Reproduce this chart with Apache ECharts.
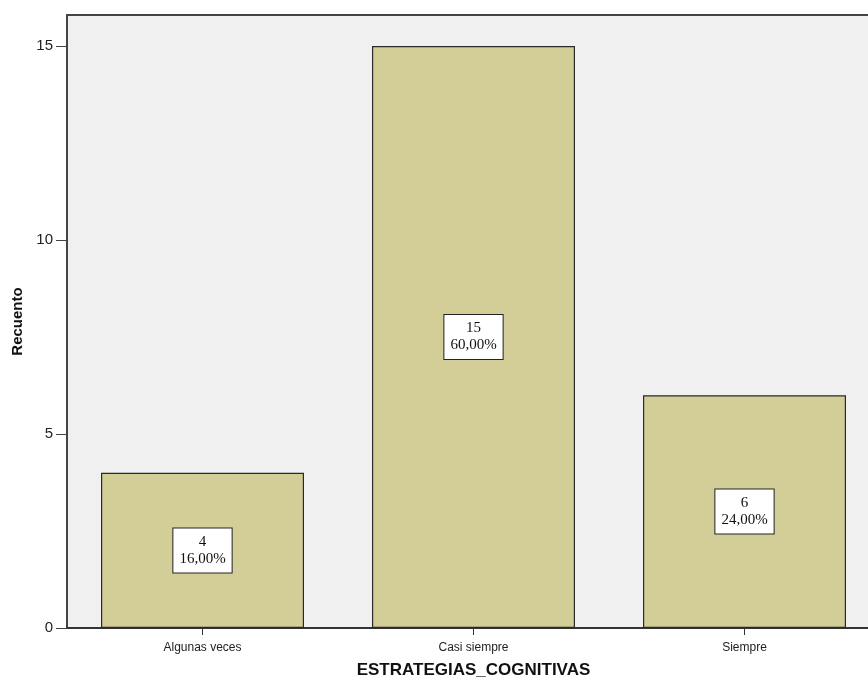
<!DOCTYPE html>
<html>
<head>
<meta charset="utf-8">
<script src="https://cdn.jsdelivr.net/npm/echarts@6/dist/echarts.min.js"></script>
<style>html,body{margin:0;padding:0;background:#fff;}#c{width:868px;height:683px;}</style>
</head>
<body>
<div id="c"></div>
<script>
const categories = ['Algunas veces', 'Casi siempre', 'Siempre'];
const counts = [4, 15, 6];
const percents = ['16,00%', '60,00%', '24,00%'];
const yTicks = [0, 5, 10, 15];

const chart = echarts.init(document.getElementById('c'));
chart.setOption({
  animation: false,
  grid: {left: 67, top: 15, width: 813, height: 613, outerBoundsMode: 'none', containLabel: false, show: true, backgroundColor: '#f0f0f0', borderColor: '#444', borderWidth: 2},
  xAxis: {
    type: 'category', data: categories,
    name: 'ESTRATEGIAS_COGNITIVAS', nameLocation: 'middle', nameGap: 34,
    nameTextStyle: {fontFamily: 'Arial, Liberation Sans', fontWeight: 'bold', fontSize: 17, color: '#111'},
    axisLine: {show: true, lineStyle: {color: '#333', width: 2}},
    axisTick: {show: true, alignWithLabel: true, interval: 0, length: 7, lineStyle: {color: '#333', width: 1}},
    axisLabel: {fontFamily: 'Arial, Liberation Sans', fontSize: 12, color: '#222', margin: 14}
  },
  yAxis: {
    type: 'value', min: 0, max: 15.8,
    name: 'Recuento', nameLocation: 'middle', nameGap: 42, nameRotate: 90,
    nameTextStyle: {fontFamily: 'Arial, Liberation Sans', fontWeight: 'bold', fontSize: 15, color: '#111'},
    axisLine: {show: true, lineStyle: {color: '#444', width: 2}},
    axisTick: {show: true, length: 11, customValues: yTicks, lineStyle: {color: '#444'}},
    axisLabel: {customValues: yTicks, fontFamily: 'Arial, Liberation Sans', fontSize: 15, color: '#222', margin: 14},
    splitLine: {show: false}
  },
  series: [{
    type: 'bar', data: counts, barWidth: 203,
    itemStyle: {color: '#d3ce98', borderColor: '#2a2a2a', borderWidth: 1.2},
    label: {
      show: true, position: 'inside',
      formatter: p => p.value + '\n' + percents[p.dataIndex],
      fontFamily: 'Liberation Serif, Times New Roman, serif', fontSize: 15, lineHeight: 17, color: '#111',
      backgroundColor: '#fff', borderColor: '#222', borderWidth: 1, padding: [5, 6, 5, 6], align: 'center'
    }
  }]
});
</script>
</body>
</html>
